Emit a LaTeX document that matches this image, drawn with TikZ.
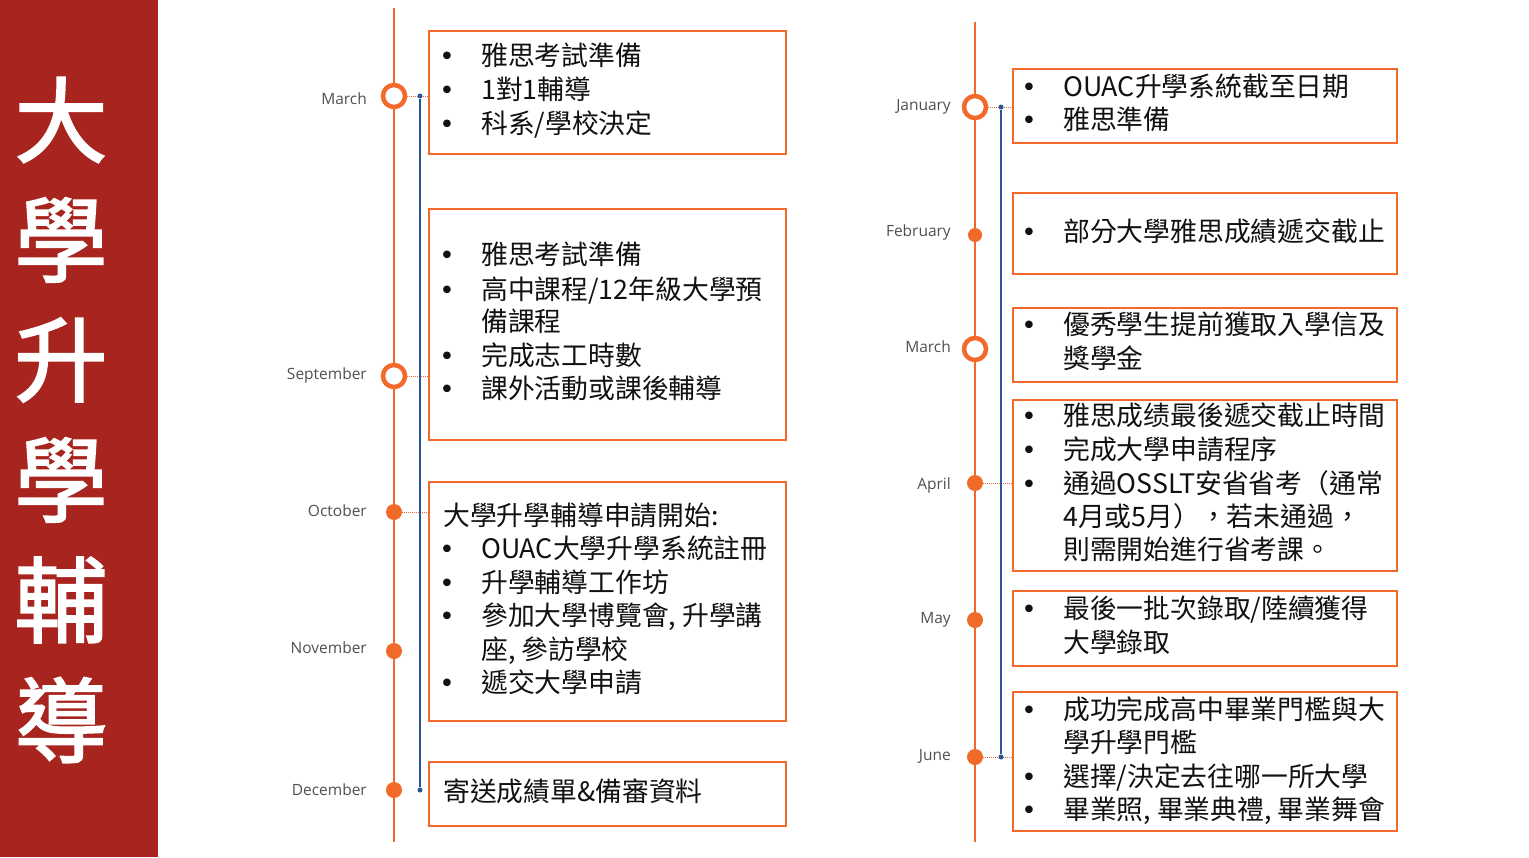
\documentclass[tikz,border=0pt]{standalone}
\usepackage{fontspec}
\setmainfont{Open Sans}
\newfontfamily\cjk{Noto Sans CJK TC}
\newfontfamily\cjkt[FakeBold=2]{Noto Sans CJK TC}
\newfontfamily\lab{Open Sans}
\newfontfamily\bulf{DejaVu Sans}
\definecolor{orng}{HTML}{F26A2A}
\definecolor{barred}{HTML}{A8241E}
\definecolor{tblue}{HTML}{2A5599}
\definecolor{labgray}{HTML}{505050}
\definecolor{txtc}{HTML}{111111}
\tikzset{
  tline/.style={orng, line width=2.5pt},
  hollow/.style={circle, draw=orng, fill=white, line width=4.5pt, minimum size=22pt, inner sep=0pt},
  dot/.style={circle, fill=orng, minimum size=16pt, inner sep=0pt},
  bdot/.style={circle, fill=tblue, minimum size=5pt, inner sep=0pt},
  conn/.style={orng, line width=1pt, densely dotted},
  bline/.style={tblue, line width=1.2pt},
  box/.style={draw=orng, line width=2pt, fill=none, inner sep=0pt},
  mlabel/.style={anchor=base east, inner sep=0pt, text=labgray, font=\lab\fontsize{15.5}{18}\selectfont},
  txt/.style={anchor=base west, inner sep=0pt, text=txtc, font=\cjk\fontsize{26.8}{30}\selectfont},
  bul/.style={anchor=base, inner sep=0pt, text=txtc, font=\bulf\fontsize{26}{30}\selectfont},
  title/.style={inner sep=0pt, text=white, font=\cjkt\fontsize{93}{96}\selectfont}
}
\begin{document}
\begin{tikzpicture}[x=1pt,y=-1pt]
\useasboundingbox (0,0) rectangle (1529,857);
\fill[white] (0,0) rectangle (1529,857);
% red title bar
\fill[barred] (0,0) rectangle (158,857);
\node[title] (t1) at (61,120) {大};
\node[title] (t2) at (61,240) {學};
\node[title] (t3) at (61,360) {升};
\node[title] (t4) at (61,480) {學};
\node[title] (t5) at (61,600) {輔};
\node[title] (t6) at (61,720) {導};

% ===== left timeline =====
\coordinate (ltop) at (394,8);
\coordinate (lbot) at (394,842);
\draw[tline] (ltop) -- (lbot);
% boxes
\node[box, minimum width=357pt, minimum height=123pt, anchor=north west] (lb1) at (428,30) {};
\node[box, minimum width=357pt, minimum height=231pt, anchor=north west] (lb2) at (428,208) {};
\node[box, minimum width=357pt, minimum height=239pt, anchor=north west] (lb3) at (428,481) {};
\node[box, minimum width=357pt, minimum height=64pt, anchor=north west] (lb4) at (428,761) {};
% markers
\node[hollow] (lm1) at (394,96) {};
\node[hollow] (lm2) at (394,376) {};
\node[dot] (lm3) at (394,512) {};
\node[dot] (lm4) at (394,651) {};
\node[dot] (lm5) at (394,790) {};
% labels
\node[mlabel] (ll1) at (367,104) {March};
\node[mlabel] (ll2) at (367,379) {September};
\node[mlabel] (ll3) at (367,516) {October};
\node[mlabel] (ll4) at (367,653) {November};
\node[mlabel] (ll5) at (367,795) {December};
% connectors
\draw[conn] (lm1) -- (lb1.west |- lm1);
\draw[conn] (lm2) -- (lb2.west |- lm2);
\draw[conn] (lm3) -- (lb3.west |- lm3);
\node[bdot] (lbd1) at (420,96) {};
\node[bdot] (lbd2) at (420,790) {};
\draw[bline] (lbd1) -- (lbd2);
% box texts
\node[bul] (lb1u1) at (447,65) {•}; \node[txt] (lb1a) at (481,65) {雅思考試準備};
\node[bul] (lb1u2) at (447,99) {•}; \node[txt] (lb1b) at (481,99) {1對1輔導};
\node[bul] (lb1u3) at (447,133) {•}; \node[txt] (lb1c) at (481,133) {科系/學校決定};

\node[bul] (lb2u1) at (447,264) {•}; \node[txt] (lb2a) at (481,264) {雅思考試準備};
\node[bul] (lb2u2) at (447,299) {•}; \node[txt] (lb2b) at (481,299) {高中課程/12年級大學預};
\node[txt] (lb2c) at (481,331) {備課程};
\node[bul] (lb2u3) at (447,365) {•}; \node[txt] (lb2d) at (481,365) {完成志工時數};
\node[bul] (lb2u4) at (447,398) {•}; \node[txt] (lb2e) at (481,398) {課外活動或課後輔導};

\node[txt] (lb3a) at (443,525) {大學升學輔導申請開始:};
\node[bul] (lb3u1) at (447,558) {•}; \node[txt] (lb3b) at (481,558) {OUAC大學升學系統註冊};
\node[bul] (lb3u2) at (447,592) {•}; \node[txt] (lb3c) at (481,592) {升學輔導工作坊};
\node[bul] (lb3u3) at (447,625) {•}; \node[txt] (lb3d) at (481,625) {參加大學博覽會, 升學講};
\node[txt] (lb3e) at (481,659) {座, 參訪學校};
\node[bul] (lb3u4) at (447,692) {•}; \node[txt] (lb3f) at (481,692) {遞交大學申請};

\node[txt] (lb4a) at (443,801) {寄送成績單\&備審資料};

% ===== right timeline =====
\coordinate (rtop) at (975,22);
\coordinate (rbot) at (975,842);
\draw[tline] (rtop) -- (rbot);
\node[box, minimum width=384pt, minimum height=74pt, anchor=north west] (rb1) at (1012,68) {};
\node[box, minimum width=384pt, minimum height=81pt, anchor=north west] (rb2) at (1012,192) {};
\node[box, minimum width=384pt, minimum height=74pt, anchor=north west] (rb3) at (1012,307) {};
\node[box, minimum width=384pt, minimum height=171pt, anchor=north west] (rb4) at (1012,399) {};
\node[box, minimum width=384pt, minimum height=75pt, anchor=north west] (rb5) at (1012,590) {};
\node[box, minimum width=384pt, minimum height=139pt, anchor=north west] (rb6) at (1012,691) {};
\node[hollow] (rm1) at (975,107) {};
\node[dot, minimum size=14pt] (rm2) at (975,235) {};
\node[hollow] (rm3) at (975,349) {};
\node[dot] (rm4) at (975,483) {};
\node[dot] (rm5) at (975,620) {};
\node[dot] (rm6) at (975,757) {};
\node[mlabel] (rl1) at (951,110) {January};
\node[mlabel] (rl2) at (951,236) {February};
\node[mlabel] (rl3) at (951,352) {March};
\node[mlabel] (rl4) at (951,489) {April};
\node[mlabel] (rl5) at (951,623) {May};
\node[mlabel] (rl6) at (951,760) {June};
\draw[conn] (rm1) -- (rb1.west |- rm1);
\draw[conn] (rm4) -- (rb4.west |- rm4);
\draw[conn] (rm6) -- (rb6.west |- rm6);
\node[bdot] (rbd1) at (1001,107) {};
\node[bdot] (rbd2) at (1001,757) {};
\draw[bline] (rbd1) -- (rbd2);

\node[bul] (rb1u1) at (1029,96) {•}; \node[txt] (rb1a) at (1063,96) {OUAC升學系統截至日期};
\node[bul] (rb1u2) at (1029,129) {•}; \node[txt] (rb1b) at (1063,129) {雅思準備};

\node[bul] (rb2u1) at (1029,241) {•}; \node[txt] (rb2a) at (1063,241) {部分大學雅思成績遞交截止};

\node[bul] (rb3u1) at (1029,334) {•}; \node[txt] (rb3a) at (1063,334) {優秀學生提前獲取入學信及};
\node[txt] (rb3b) at (1063,368) {獎學金};

\node[bul] (rb4u1) at (1029,425) {•}; \node[txt] (rb4a) at (1063,425) {雅思成绩最後遞交截止時間};
\node[bul] (rb4u2) at (1029,459) {•}; \node[txt] (rb4b) at (1063,459) {完成大學申請程序};
\node[bul] (rb4u3) at (1029,493) {•}; \node[txt] (rb4c) at (1063,493) {通過OSSLT安省省考（通常};
\node[txt] (rb4d) at (1063,526) {4月或5月），若未通過，};
\node[txt] (rb4e) at (1063,559) {則需開始進行省考課。};

\node[bul] (rb5u1) at (1029,618) {•}; \node[txt] (rb5a) at (1063,618) {最後一批次錄取/陸續獲得};
\node[txt] (rb5b) at (1063,652) {大學錄取};

\node[bul] (rb6u1) at (1029,719) {•}; \node[txt] (rb6a) at (1063,719) {成功完成高中畢業門檻與大};
\node[txt] (rb6b) at (1063,752) {學升學門檻};
\node[bul] (rb6u2) at (1029,786) {•}; \node[txt] (rb6c) at (1063,786) {選擇/決定去往哪一所大學};
\node[bul] (rb6u3) at (1029,819) {•}; \node[txt] (rb6d) at (1063,819) {畢業照, 畢業典禮, 畢業舞會};
\end{tikzpicture}
\end{document}
